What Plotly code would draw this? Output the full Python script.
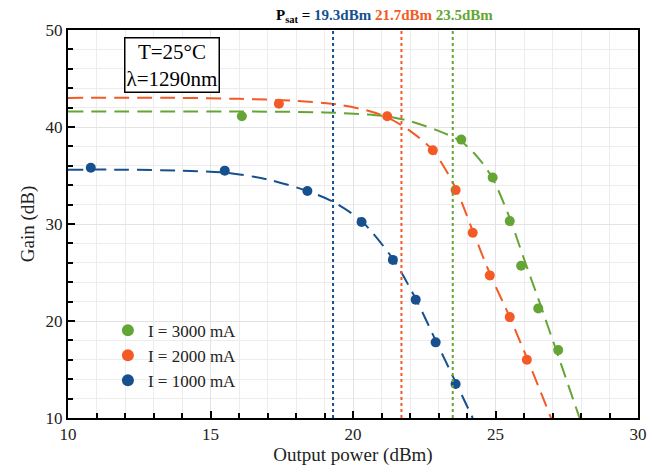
import plotly.graph_objects as go

# measured points
x3000 = [16.1, 23.8, 24.9, 25.5, 25.9, 26.5, 27.2]
g3000 = [41.1, 38.7, 34.8, 30.3, 25.7, 21.3, 17.0]
x2000 = [17.4, 21.2, 22.8, 23.6, 24.2, 24.8, 25.5, 26.1]
g2000 = [42.4, 41.1, 37.6, 33.5, 29.1, 24.7, 20.4, 16.0]
x1000 = [10.8, 15.5, 18.4, 20.3, 21.4, 22.2, 22.9, 23.6]
g1000 = [35.8, 35.5, 33.4, 30.2, 26.3, 22.2, 17.8, 13.5]

# fit curves
fx3000 = [10, 16, 19, 20.5, 21.2, 22, 23, 23.8, 24.4, 24.9, 25.5, 26.0, 26.5, 27.2, 27.95]
fg3000 = [41.6, 41.6, 41.5, 41.3, 41.1, 40.6, 39.6, 38.5, 36.8, 34.7, 30.6, 26.4, 22.3, 16.4, 10]
fx2000 = [10, 14, 16, 18, 19.5, 20.5, 21.2, 22, 22.8, 23.6, 24.2, 24.8, 25.5, 26.1, 26.95]
fg2000 = [43.0, 43.0, 42.9, 42.7, 42.3, 41.7, 41.0, 39.6, 37.6, 33.7, 29.3, 24.9, 20.4, 16.2, 10]
fx1000 = [10, 12, 14, 15.5, 17, 18.4, 19.3, 20.3, 21.4, 22.2, 22.9, 23.6, 24.2]
fg1000 = [35.6, 35.6, 35.5, 35.3, 34.6, 33.4, 32.3, 30.3, 26.4, 22.3, 18.0, 13.7, 10]

psat = [19.3, 21.7, 23.5]
labels = ["I = 3000 mA", "I = 2000 mA", "I = 1000 mA"]

GREEN = "#64a535"
RED = "#f45a25"
BLUE = "#17508e"
FONT = "Liberation Serif"

fig = go.Figure()
# fit lines
for fx, fg, c in [(fx3000, fg3000, GREEN), (fx2000, fg2000, RED), (fx1000, fg1000, BLUE)]:
    fig.add_trace(go.Scatter(x=fx, y=fg, mode="lines", showlegend=False,
                             line=dict(color=c, width=2, dash="15px,8px", shape="spline", smoothing=0.8),
                             hoverinfo="skip"))
# markers
for xs, gs, c, lab in [(x3000, g3000, GREEN, labels[0]), (x2000, g2000, RED, labels[1]),
                       (x1000, g1000, BLUE, labels[2])]:
    fig.add_trace(go.Scatter(x=xs, y=gs, mode="markers", name=lab,
                             marker=dict(color=c, size=10)))

for p, c in zip(psat, [BLUE, RED, GREEN]):
    fig.add_shape(type="line", x0=p, x1=p, y0=0, y1=1, xref="x", yref="paper",
                  line=dict(color=c, width=2, dash="dot"), layer="above")

fig.add_annotation(
    xref="paper", yref="paper", x=0.555, y=1.0, yanchor="bottom", xanchor="center", yshift=3,
    showarrow=False,
    text=("<b>P<sub>sat</sub> = <span style='color:%s'>%.1fdBm</span> "
          "<span style='color:%s'>%.1fdBm</span> <span style='color:%s'>%.1fdBm</span></b>")
    % (BLUE, psat[0], RED, psat[1], GREEN, psat[2]),
    font=dict(family=FONT, size=15, color="black"))

fig.add_annotation(
    xref="paper", yref="paper", x=0.098, y=0.982, xanchor="left", yanchor="top",
    showarrow=False, text="T=25°C<br>λ=1290nm", align="center",
    font=dict(family=FONT, size=21, color="black"),
    bordercolor="black", borderwidth=1.5, borderpad=1, bgcolor="white")

axis_common = dict(showline=True, linecolor="black", linewidth=2, mirror=True,
                   ticks="inside", ticklen=7, tickwidth=1.5, tickcolor="black",
                   gridcolor="#e3e3e3", gridwidth=1, zeroline=False, automargin=False,
                   tickfont=dict(family=FONT, size=17, color="#222"))

fig.update_xaxes(range=[10, 30], dtick=5, tick0=10,
                 minor=dict(dtick=1, ticks="inside", ticklen=5, tickcolor="black",
                            showgrid=True, gridcolor="#ececec"),
                 title=dict(text="Output power (dBm)", font=dict(family=FONT, size=19, color="#222"),
                            standoff=4),
                 **axis_common)
fig.update_yaxes(range=[10, 50], dtick=10, tick0=10,
                 minor=dict(dtick=2, ticks="inside", ticklen=5, tickcolor="black",
                            showgrid=True, gridcolor="#ececec"),
                 title=dict(text="Gain (dB)", font=dict(family=FONT, size=19, color="#222"),
                            standoff=6),
                 **axis_common)

fig.update_layout(
    width=652, height=472,
    margin=dict(l=68, r=14, t=30, b=54),
    plot_bgcolor="white", paper_bgcolor="white",
    legend=dict(x=0.07, y=0.05, xanchor="left", yanchor="bottom",
                bgcolor="rgba(255,255,255,0)", font=dict(family=FONT, size=17, color="#222"),
                itemsizing="constant", tracegroupgap=0),
)

fig.write_html("out.html")
